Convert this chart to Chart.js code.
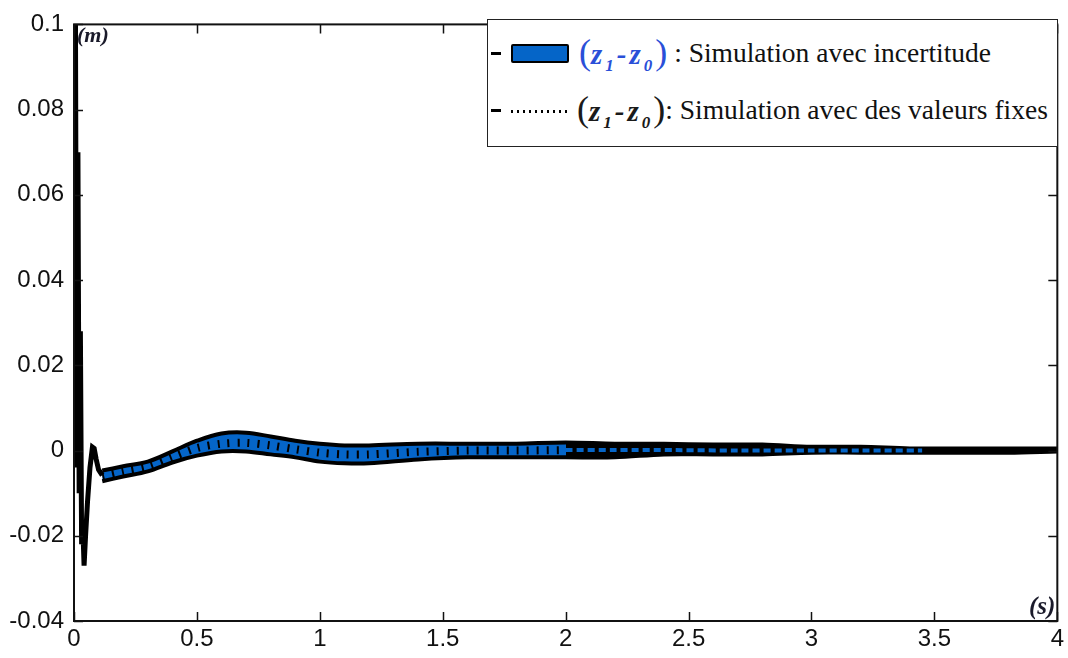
<!DOCTYPE html>
<html>
<head>
<meta charset="utf-8">
<script src="https://cdn.jsdelivr.net/npm/chart.js@4/dist/chart.umd.min.js"></script>
<style>
  html, body { margin:0; padding:0; background:#fff; }
  #wrap { position:relative; width:1068px; height:658px; overflow:hidden; }
  #chart { position:absolute; left:0; top:0; }
  .lbl { position:absolute; font-family:"Liberation Serif","Times New Roman",serif; font-weight:bold; font-style:italic; color:#1a1a2a; }
  #legend { position:absolute; left:487px; top:19px; width:571px; height:128px; border:1.5px solid #222; background:#fff;
            font-family:"Liberation Serif","Times New Roman",serif; font-size:27.5px; color:#111; box-sizing:border-box; }
  .row { position:absolute; left:0; height:40px; display:flex; align-items:center; white-space:nowrap; }
  .dash { width:10px; height:3px; background:#000; margin-left:3px; margin-right:10px; }
  .box { width:54px; height:15px; background:#0565C8; border:2px solid #000; border-radius:2px; margin-right:10px; }
  .dots { width:56px; height:3px; margin-right:10px; background:repeating-linear-gradient(90deg,#000 0 2px,transparent 2px 6px); margin-top:2px; }
  .math { font-style:italic; font-weight:bold; font-size:29px; letter-spacing:3px; }
  .par { font-size:36px; font-style:normal; font-weight:normal; }
  sub { font-size:17px; }
</style>
</head>
<body>
<div id="wrap">
  <canvas id="chart" width="1068" height="658"></canvas>
  <div class="lbl" style="left:77px; top:22px; font-size:22px;">(m)</div>
  <div class="lbl" style="left:1029px; top:592px; font-size:25px;">(s)</div>
  <div id="legend">
    <div class="row" style="top:13px;">
      <div class="dash"></div><div class="box"></div>
      <span style="color:#2a4fd8;"><span class="par">(</span><span class="math">z<sub>1</sub>-z<sub>0</sub></span><span class="par">)</span></span>
      <span>&nbsp;: Simulation avec incertitude</span>
    </div>
    <div class="row" style="top:70px;">
      <div class="dash"></div><div class="dots"></div>
      <span style="color:#1a1a1a;"><span class="par">(</span><span class="math">z<sub>1</sub>-z<sub>0</sub></span><span class="par">)</span></span>
      <span>: Simulation avec des valeurs fixes</span>
    </div>
  </div>
</div>
<script>
'use strict';

// axes
const xTicks = [0, 0.5, 1, 1.5, 2, 2.5, 3, 3.5, 4];
const yTicks = [-0.04, -0.02, 0, 0.02, 0.04, 0.06, 0.08, 0.1];

// transitoire initial (traces superposées)
const timeTrans = [0, 0.006, 0.011, 0.016, 0.021, 0.026, 0.031, 0.036, 0.041, 0.047, 0.055, 0.065, 0.075, 0.082, 0.09, 0.1, 0.115];
const valTrans  = [0, 0.1, -0.004, 0.07, -0.01, 0.028, -0.022, -0.018, -0.027, -0.02, -0.012, -0.004, 0.0008, 0.0005, -0.002, -0.0045, -0.0058];

// enveloppe d'incertitude
const timeBand  = [0.115, 0.2, 0.3, 0.4, 0.5, 0.6, 0.7, 0.8, 0.9, 1.0, 1.1, 1.2, 1.4, 1.6, 1.8, 2.0, 2.2, 2.4, 2.6, 2.8, 3.0, 3.2, 3.4, 3.6, 3.8, 4.0];
const bandUpper = [-0.0047, -0.0037, -0.0026, -0.0002, 0.0023, 0.0040, 0.0042, 0.0033, 0.0023, 0.0016, 0.0012, 0.0012, 0.0016, 0.0016, 0.0016, 0.0019, 0.0016, 0.0016, 0.0014, 0.0014, 0.0009, 0.0009, 0.0005, 0.0005, 0.0005, 0.0005];
const bandLower = [-0.0072, -0.0061, -0.0049, -0.0028, -0.0012, -0.0002, -0.0002, -0.0009, -0.0016, -0.0026, -0.0030, -0.0030, -0.0021, -0.0016, -0.0016, -0.0016, -0.0016, -0.0009, -0.0009, -0.0009, -0.0005, -0.0005, -0.0005, -0.0005, -0.0005, -0.0002];

// simulation avec valeurs fixes
const timeFixed = [0.115, 0.2, 0.3, 0.4, 0.5, 0.6, 0.7, 0.8, 0.9, 1.0, 1.1, 1.2, 1.4, 1.6, 1.8, 2.0, 2.2, 2.45, 2.7, 3.0, 3.2, 3.45];
const valFixed  = [-0.0060, -0.0049, -0.0037, -0.0015, 0.0006, 0.0016, 0.0018, 0.0012, 0.0003, -0.0005, -0.0009, -0.0009, -0.0003, 0.0, 0.0, 0.0001, 0.0001, 0.0001, 0.0, 0.0, 0.0, 0.0];

const BLUE = '#0565C8';
const BLUE_END = 2.0;   // au-delà la bande devient noire
const DASH_END = 3.45;  // fin des tirets bleus

const pts = (xs, ys) => xs.map((x, i) => ({x, y: ys[i]}));

function bandFill(ctx) {
  const c = ctx.chart; const a = c.chartArea;
  if (!a) return BLUE;
  const p = c.scales.x.getPixelForValue(BLUE_END);
  const f = Math.min(1, Math.max(0, (p - a.left) / (a.right - a.left)));
  const g = c.ctx.createLinearGradient(a.left, 0, a.right, 0);
  g.addColorStop(0, BLUE); g.addColorStop(f, BLUE);
  g.addColorStop(f, '#000'); g.addColorStop(1, '#000');
  return g;
}

// ticks vers l'intérieur + cadre (style MATLAB)
const boxTicks = {
  id: 'boxTicks',
  afterDraw(chart) {
    const {ctx, chartArea: a, scales: {x, y}} = chart;
    const L = 9;
    ctx.save();
    ctx.strokeStyle = '#111'; ctx.lineWidth = 1.5;
    ctx.beginPath();
    xTicks.forEach(v => {
      const px = Math.round(x.getPixelForValue(v)) + 0.5;
      ctx.moveTo(px, a.bottom); ctx.lineTo(px, a.bottom - L);
      ctx.moveTo(px, a.top); ctx.lineTo(px, a.top + L);
    });
    yTicks.forEach(v => {
      const py = Math.round(y.getPixelForValue(v)) + 0.5;
      ctx.moveTo(a.left, py); ctx.lineTo(a.left + L, py);
      ctx.moveTo(a.right, py); ctx.lineTo(a.right - L, py);
    });
    ctx.stroke();
    ctx.lineWidth = 2;
    ctx.strokeRect(a.left, a.top, a.right - a.left, a.bottom - a.top);
    ctx.restore();
  }
};

const tickFont = { family: '"Liberation Sans Narrow","Arial Narrow","Liberation Sans",sans-serif', size: 24 };

new Chart(document.getElementById('chart'), {
  type: 'line',
  data: {
    datasets: [
      { label: 'fixe', data: pts(timeFixed, valFixed), order: 0, borderWidth: 8, pointRadius: 0, tension: 0.3, fill: false,
        segment: {
          borderColor: s => s.p0.parsed.x < BLUE_END ? '#000' : (s.p0.parsed.x < DASH_END ? BLUE : 'rgba(0,0,0,0)'),
          borderDash: s => s.p0.parsed.x < BLUE_END ? [2, 8] : [7, 4],
          borderWidth: s => s.p0.parsed.x < BLUE_END ? 8 : 4
        } },
      { label: 'bas', data: pts(timeBand, bandLower), order: 2, borderColor: '#000', borderWidth: 4, pointRadius: 0, tension: 0.35, fill: false },
      { label: 'haut', data: pts(timeBand, bandUpper), order: 1, borderColor: '#000', borderWidth: 4, pointRadius: 0, tension: 0.35,
        fill: '-1', backgroundColor: bandFill },
      { label: 'transitoire', data: pts(timeTrans, valTrans), order: 3, borderColor: '#000', borderWidth: 5, pointRadius: 0, tension: 0, fill: false }
    ]
  },
  options: {
    responsive: false, animation: false, devicePixelRatio: 1,
    layout: { padding: { top: 20, right: 9, left: 0, bottom: 0 } },
    plugins: { legend: { display: false }, tooltip: { enabled: false }, filler: { drawTime: 'beforeDatasetsDraw' } },
    scales: {
      x: {
        type: 'linear', min: 0, max: 4,
        grid: { display: false, drawTicks: false }, border: { display: false },
        afterBuildTicks: s => { s.ticks = xTicks.map(v => ({value: v})); },
        afterFit: s => { s.height = 37; },
        ticks: { color: '#111', font: tickFont, padding: 4, maxRotation: 0, callback: v => String(v) }
      },
      y: {
        min: -0.04, max: 0.1,
        grid: { display: false, drawTicks: false }, border: { display: false },
        afterBuildTicks: s => { s.ticks = yTicks.map(v => ({value: v})); },
        afterFit: s => { s.width = 74; },
        ticks: { color: '#111', font: tickFont, padding: 10, callback: v => String(+v.toFixed(2)) }
      }
    }
  },
  plugins: [boxTicks]
});
</script>
</body>
</html>
